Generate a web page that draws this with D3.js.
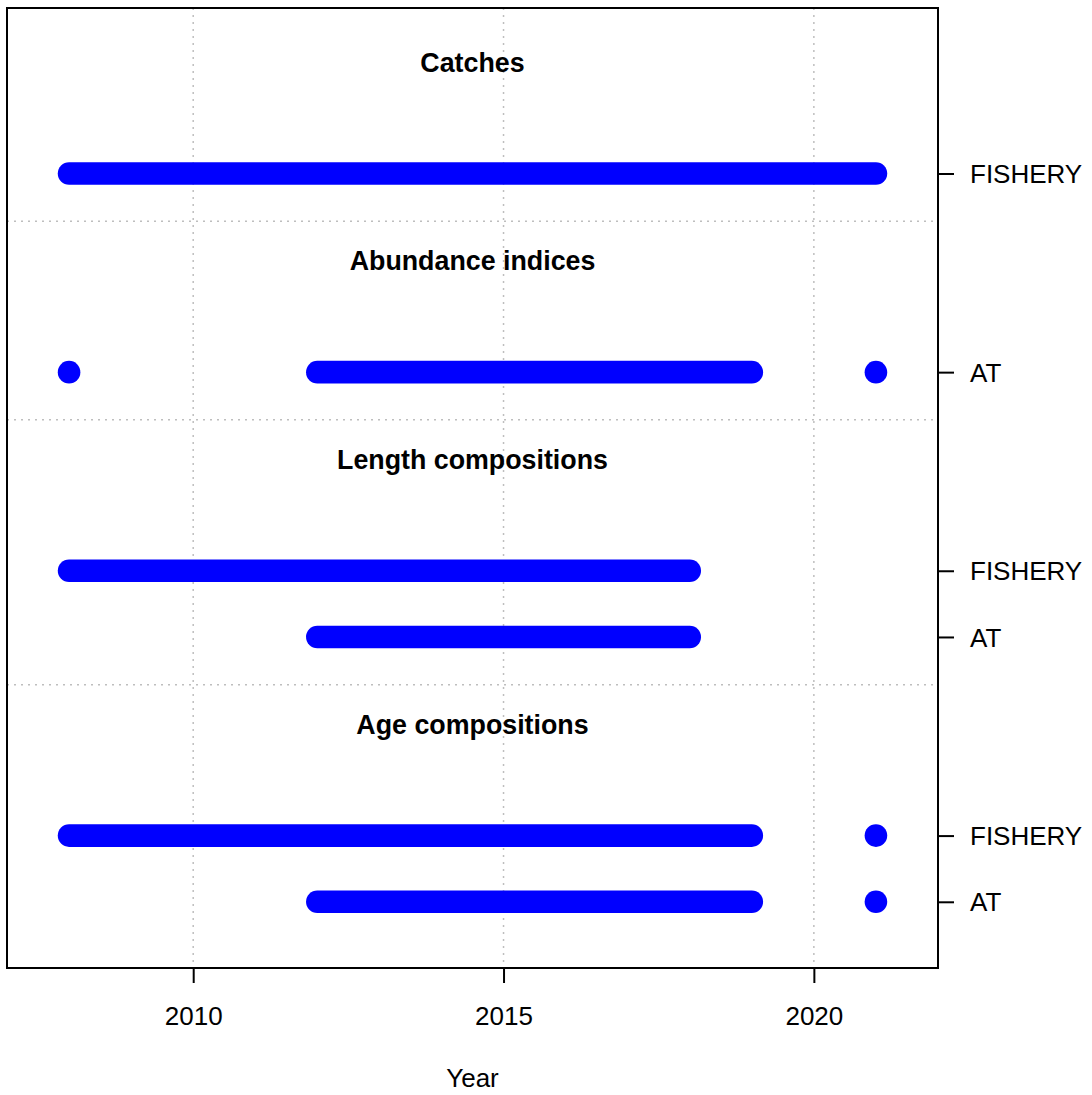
<!DOCTYPE html>
<html>
<head>
<meta charset="utf-8">
<script src="https://cdn.jsdelivr.net/npm/d3@7"></script>
<style>
  html, body { margin: 0; padding: 0; background: #fff; }
  svg { display: block; font-family: "Liberation Sans", Arial, sans-serif; }
</style>
</head>
<body>
<svg id="chart" width="1092" height="1095"></svg>
<script>
// ---- data ----
const groupTitles = ["Catches", "Abundance indices", "Length compositions", "Age compositions"];
const fleetNames = ["FISHERY", "AT"];
const catchesFishery = [2008, 2009, 2010, 2011, 2012, 2013, 2014, 2015, 2016, 2017, 2018, 2019, 2020, 2021];
const abundanceAT = [2008, 2012, 2013, 2014, 2015, 2016, 2017, 2018, 2019, 2021];
const lengthFishery = [2008, 2009, 2010, 2011, 2012, 2013, 2014, 2015, 2016, 2017, 2018];
const lengthAT = [2012, 2013, 2014, 2015, 2016, 2017, 2018];
const ageFishery = [2008, 2009, 2010, 2011, 2012, 2013, 2014, 2015, 2016, 2017, 2018, 2019, 2021];
const ageAT = [2012, 2013, 2014, 2015, 2016, 2017, 2018, 2019, 2021];
const xTicks = [2010, 2015, 2020];
const xLabel = "Year";

// groups listed top to bottom; rows within a group listed top to bottom
const groups = [
  { title: groupTitles[0], rows: [{ fleet: fleetNames[0], years: catchesFishery }] },
  { title: groupTitles[1], rows: [{ fleet: fleetNames[1], years: abundanceAT }] },
  { title: groupTitles[2], rows: [{ fleet: fleetNames[0], years: lengthFishery }, { fleet: fleetNames[1], years: lengthAT }] },
  { title: groupTitles[3], rows: [{ fleet: fleetNames[0], years: ageFishery }, { fleet: fleetNames[1], years: ageAT }] }
];

// assign vertical positions (units) from bottom up
let pos = 0;
const rowsAll = [], titlesAll = [], seps = [];
[...groups].reverse().forEach((g, gi) => {
  const rs = [...g.rows].reverse();
  rs.forEach(r => { pos += 1; rowsAll.push({ ...r, y: pos }); });
  titlesAll.push({ title: g.title, y: pos + 1.68 });
  if (gi < groups.length - 1) { seps.push(pos + 2.28); pos += 2; }
});
const yTop = pos + 2.5;

// ---- layout ----
const svg = d3.select("#chart");
const L = 7, R = 938, T = 8, B = 968;
const x = d3.scaleLinear().domain([2007, 2022]).range([L, R]);
const y = d3.scaleLinear().domain([0, yTop]).range([B, T]);
const fs = 26;
const blue = "#0000FF";
const grid = "#BEBEBE";

// grid verticals
svg.append("g").selectAll("line").data(xTicks).join("line")
  .attr("x1", d => x(d)).attr("x2", d => x(d))
  .attr("y1", T).attr("y2", B)
  .attr("stroke", grid).attr("stroke-width", 1.5).attr("stroke-dasharray", "2,5");

// separators
svg.append("g").selectAll("line").data(seps).join("line")
  .attr("x1", L).attr("x2", R - 4)
  .attr("y1", d => y(d)).attr("y2", d => y(d))
  .attr("stroke", grid).attr("stroke-width", 1.5).attr("stroke-dasharray", "2,5");

// data rows: contiguous runs drawn as one thick round-capped line, isolated years as dots
const lw = 22.6;
const rowG = svg.append("g");
rowsAll.forEach(r => {
  const runs = [];
  r.years.forEach((yr, i) => {
    if (i > 0 && yr - r.years[i - 1] === 1) runs[runs.length - 1][1] = yr;
    else runs.push([yr, yr]);
  });
  const lines = runs.filter(d => d[1] > d[0]);
  const dots = runs.filter(d => d[1] === d[0]);
  rowG.append("g").selectAll("line").data(lines).join("line")
    .attr("x1", d => x(d[0])).attr("x2", d => x(d[1]))
    .attr("y1", y(r.y)).attr("y2", y(r.y))
    .attr("stroke", blue).attr("stroke-width", lw).attr("stroke-linecap", "round");
  rowG.append("g").selectAll("circle").data(dots).join("circle")
    .attr("cx", d => x(d[0])).attr("cy", y(r.y)).attr("r", lw / 2)
    .attr("fill", blue);
});

// titles
svg.append("g").selectAll("text").data(titlesAll).join("text")
  .attr("x", (L + R) / 2).attr("y", d => y(d.y) + 9.5)
  .attr("text-anchor", "middle").attr("font-weight", "bold")
  .attr("font-size", 26.8).attr("fill", "#000")
  .text(d => d.title);

// box
svg.append("rect").attr("x", L).attr("y", T).attr("width", R - L).attr("height", B - T)
  .attr("fill", "none").attr("stroke", "#000").attr("stroke-width", 2);

// x axis
const xAxis = svg.append("g").attr("transform", `translate(0,${B})`)
  .call(d3.axisBottom(x).tickValues(xTicks).tickFormat(d3.format("d")).tickSize(15).tickSizeOuter(0));
xAxis.select(".domain").remove();
xAxis.selectAll(".tick line").attr("stroke", "#000").attr("stroke-width", 2);
xAxis.selectAll(".tick text").attr("font-size", fs).attr("font-family", "Liberation Sans, Arial, sans-serif")
  .attr("fill", "#000").attr("dy", null).attr("y", 57);

// right axis (fleet labels)
const yAxis = svg.append("g").attr("transform", `translate(${R},0)`)
  .call(d3.axisRight(y).tickValues(rowsAll.map(r => r.y)).tickFormat((d, i) => rowsAll[i].fleet).tickSize(16).tickSizeOuter(0));
yAxis.select(".domain").remove();
yAxis.selectAll(".tick line").attr("stroke", "#000").attr("stroke-width", 2);
yAxis.selectAll(".tick text").attr("font-size", fs).attr("font-family", "Liberation Sans, Arial, sans-serif")
  .attr("fill", "#000").attr("x", 32).attr("dy", "0.35em");

// x label
svg.append("text").attr("x", (L + R) / 2).attr("y", 1087)
  .attr("text-anchor", "middle").attr("font-size", fs).attr("fill", "#000")
  .text(xLabel);
</script>
</body>
</html>
